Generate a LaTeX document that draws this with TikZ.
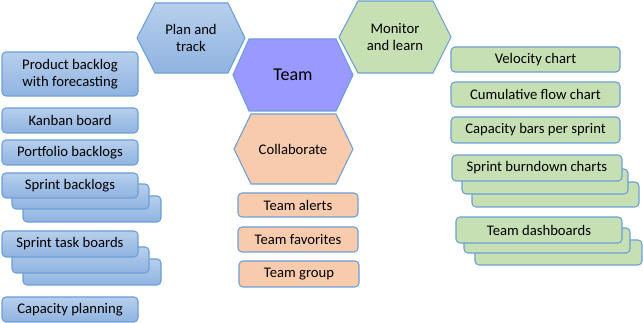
\documentclass[tikz,border=0pt]{standalone}
\usepackage{fontspec}
\setmainfont{Carlito}
\definecolor{edge}{HTML}{6C9FD8}
\definecolor{bluetop}{HTML}{B7CFEC}
\definecolor{bluebot}{HTML}{8FB3E0}
\definecolor{greenf}{HTML}{C6E0B4}
\definecolor{orangef}{HTML}{F8CBAD}
\definecolor{teamf}{HTML}{9999FF}
\tikzset{
  boxbase/.style={draw=edge, line width=0.8pt, rounded corners=3pt, inner sep=0pt, font=\fontsize{11}{13}\selectfont, align=center},
  bluebox/.style={boxbase, top color=bluetop, bottom color=bluebot},
  greenbox/.style={boxbase, fill=greenf},
  orangebox/.style={boxbase, fill=orangef},
  hexbase/.style={draw=edge, line width=0.8pt},
  hexlabel/.style={font=\fontsize{11}{13}\selectfont, align=center, inner sep=0pt},
}
\newcommand{\rbox}[7]{%
  \node[#2, minimum width={(#5-#3)*0.75pt}, minimum height={(#6-#4)*0.75pt}] (#1) at ({(#3+#5)/2},{(#4+#6)/2}) {#7};}
\begin{document}
\begin{tikzpicture}[x=0.75pt, y=-0.75pt]
\useasboundingbox (0,0) rectangle (643,323);
% hexagons
\draw[hexbase, top color=bluetop, bottom color=bluebot] (137,38) -- (155,3) -- (228,3) -- (245,38) -- (228,73) -- (155,73) -- cycle;
\node[hexlabel] (plan) at (191,38) {Plan and\\track};
\draw[hexbase, fill=greenf] (339,37) -- (358,1) -- (433,1) -- (451,37) -- (433,73) -- (358,73) -- cycle;
\node[hexlabel] (monitor) at (395,37) {Monitor\\and learn};
\draw[hexbase, fill=teamf] (233,75) -- (249,39) -- (336,39) -- (353,75) -- (336,111) -- (249,111) -- cycle;
\node[hexlabel, font=\fontsize{13.5}{15}\selectfont] (team) at (293,75) {Team};
\draw[hexbase, fill=orangef] (234,149) -- (251,114) -- (336,114) -- (353,149) -- (336,184) -- (251,184) -- cycle;
\node[hexlabel] (collab) at (293,149) {Collaborate};
% left column
\rbox{pb}{bluebox}{2}{52}{138}{96}{Product backlog\\with forecasting}
\rbox{kb}{bluebox}{2}{108}{138}{133}{Kanban board}
\rbox{pf}{bluebox}{2}{140}{138}{165}{Portfolio backlogs}
\rbox{sb3}{bluebox}{23}{196}{161}{222}{}
\rbox{sb2}{bluebox}{12}{184}{149}{209}{}
\rbox{sb}{bluebox}{2}{173}{138}{198}{Sprint backlogs}
\rbox{st3}{bluebox}{23}{259}{161}{285}{}
\rbox{st2}{bluebox}{12}{247}{149}{273}{}
\rbox{st}{bluebox}{2}{231}{138}{257}{Sprint task boards}
\rbox{cp}{bluebox}{2}{297}{138}{322}{Capacity planning}
% center column
\rbox{ta}{orangebox}{238}{193}{358}{217}{Team alerts}
\rbox{tf}{orangebox}{238}{227}{358}{252}{Team favorites}
\rbox{tg}{orangebox}{239}{261}{359}{287}{Team group}
% right column
\rbox{vc}{greenbox}{451}{47}{620}{72}{Velocity chart}
\rbox{cf}{greenbox}{451}{82}{620}{107}{Cumulative flow chart}
\rbox{cb}{greenbox}{451}{117}{620}{143}{Capacity bars per sprint}
\rbox{sd3}{greenbox}{472}{182}{639}{207}{}
\rbox{sd2}{greenbox}{462}{169}{628}{194}{}
\rbox{sd}{greenbox}{452}{155}{622}{181}{Sprint burndown charts}
\rbox{td3}{greenbox}{475}{240}{642}{265}{}
\rbox{td2}{greenbox}{464}{228}{630}{253}{}
\rbox{td}{greenbox}{456}{217}{622}{243}{Team dashboards}
\end{tikzpicture}
\end{document}
